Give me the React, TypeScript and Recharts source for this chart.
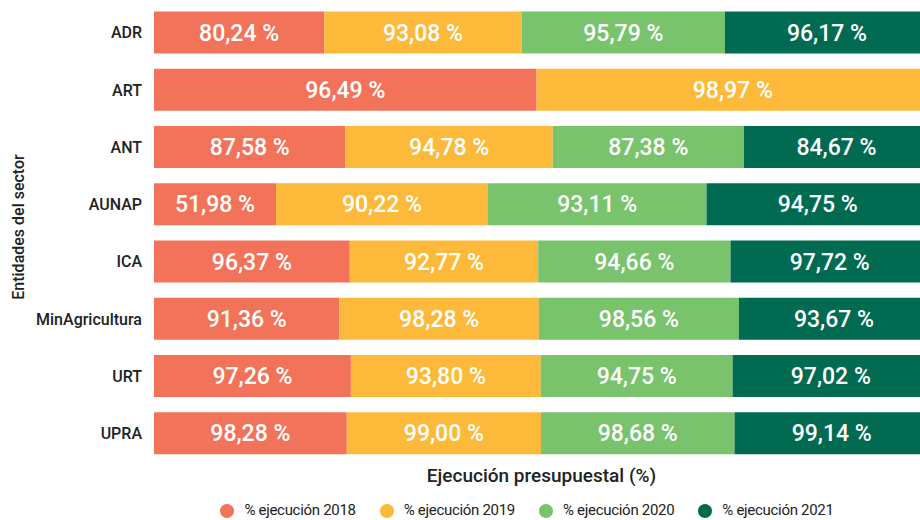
import { BarChart, Bar, XAxis, YAxis, Legend, LabelList } from "recharts";

const entidades = ["ADR", "ART", "ANT", "AUNAP", "ICA", "MinAgricultura", "URT", "UPRA"];
const ejec2018 = [80.24, 96.49, 87.58, 51.98, 96.37, 91.36, 97.26, 98.28];
const ejec2019 = [93.08, 98.97, 94.78, 90.22, 92.77, 98.28, 93.8, 99.0];
const ejec2020 = [95.79, null, 87.38, 93.11, 94.66, 98.56, 94.75, 98.68];
const ejec2021 = [96.17, null, 84.67, 94.75, 97.72, 93.67, 97.02, 99.14];

const series = [
  { key: "y2018", name: "% ejecución 2018", color: "#F3735A" },
  { key: "y2019", name: "% ejecución 2019", color: "#FDB93A" },
  { key: "y2020", name: "% ejecución 2020", color: "#79C36D" },
  { key: "y2021", name: "% ejecución 2021", color: "#006B51" },
];

const data = entidades.map((e, i) => ({
  name: e,
  y2018: ejec2018[i],
  y2019: ejec2019[i],
  y2020: ejec2020[i],
  y2021: ejec2021[i],
}));

const font = "Roboto, 'Noto Sans', sans-serif";

const fmt = (v: any) => (v == null || v === 0 ? "" : `${Number(v).toFixed(2).replace(".", ",")} %`);

// rotated y-axis title, centred on the plot height
const yTitle = (props: any) => {
  const vb = props.viewBox || {};
  const cx = 18;
  const cy = vb.y + vb.height / 2 - 6;
  return (
    <text x={cx} y={cy} transform={`rotate(-90, ${cx}, ${cy})`} textAnchor="middle" dominantBaseline="central"
      fill="#222" fontSize={16} fontWeight={500}>
      Entidades del sector
    </text>
  );
};

export default function App() {
  return (
    <div style={{ position: "absolute", left: 0, top: 0, fontFamily: font }}>
      <BarChart
        width={920}
        height={520}
        data={data}
        layout="vertical"
        stackOffset="expand"
        barCategoryGap="13%"
        margin={{ top: 4, right: -9, left: 0, bottom: 1 }}
      >
        <XAxis
          type="number"
          domain={[0, 1]}
          tick={false}
          axisLine={false}
          tickLine={false}
          height={39}
          label={{ value: "Ejecución presupuestal (%)", position: "insideBottom", offset: 19, fill: "#222", fontSize: 19, fontWeight: 500 }}
        />
        <YAxis
          type="category"
          dataKey="name"
          width={154}
          axisLine={false}
          tickLine={false}
          tickMargin={6}
          tick={{ fill: "#222", fontSize: 16, fontWeight: 500 }}
          label={{ content: yTitle }}
        />
        <Legend
          verticalAlign="bottom"
          iconType="circle"
          iconSize={14}
          wrapperStyle={{ fontSize: 15, letterSpacing: -0.3, color: "#222", left: 154, width: 770 }}
          formatter={(v: string) => <span style={{ color: "#222", marginLeft: 6, marginRight: 14 }}>{v}</span>}
        />
        {series.map((s) => (
          <Bar key={s.key} dataKey={s.key} name={s.name} stackId="a" fill={s.color} isAnimationActive={false}>
            <LabelList dataKey={s.key} position="center" formatter={fmt} fill="#fff" fontSize={23} fontWeight={500} />
          </Bar>
        ))}
      </BarChart>
    </div>
  );
}
